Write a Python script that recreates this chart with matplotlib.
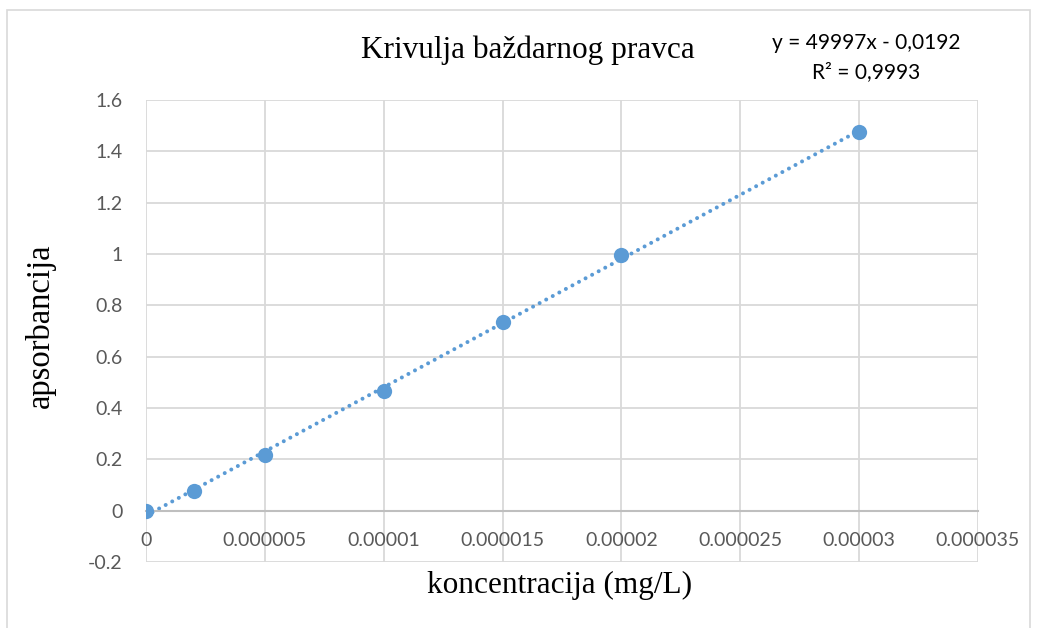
import numpy as np
import matplotlib
matplotlib.use("Agg")
import matplotlib.pyplot as plt
from matplotlib.patches import Rectangle

# Data
concentration = [0, 0.000002, 0.000005, 0.00001, 0.000015, 0.00002, 0.00003]
absorbance = [0.0, 0.075, 0.218, 0.467, 0.737, 0.997, 1.475]
slope = 49997
intercept = -0.0192
r_squared = "0,9993"
x_ticks = [0, 0.000005, 0.00001, 0.000015, 0.00002, 0.000025, 0.00003, 0.000035]
x_tick_labels = ["0", "0.000005", "0.00001", "0.000015", "0.00002", "0.000025", "0.00003", "0.000035"]
y_ticks = [-0.2, 0, 0.2, 0.4, 0.6, 0.8, 1, 1.2, 1.4, 1.6]
y_tick_labels = ["-0.2", "0", "0.2", "0.4", "0.6", "0.8", "1", "1.2", "1.4", "1.6"]
title = "Krivulja baždarnog pravca"
x_label = "koncentracija (mg/L)"
y_label = "apsorbancija"

W, H = 1037, 628
fig = plt.figure(figsize=(W / 100, H / 100), dpi=100)
fig.patch.set_facecolor("white")

# chart border
fig.patches.append(Rectangle((7 / W, -0.01), (1030 - 7) / W, (628 - 10) / H + 0.01,
                             transform=fig.transFigure, fill=False,
                             edgecolor="#D9D9D9", linewidth=1.2))

ax = fig.add_axes([146 / W, 1 - 562 / H, (978 - 146) / W, (562 - 100) / H])
ax.set_xlim(0, 0.000035)
ax.set_ylim(-0.2, 1.6)

blue = "#5B9BD5"
tick_font = "Lato"
serif = "Liberation Serif"

ax.grid(True, color="#D9D9D9", linewidth=1.3)
ax.set_axisbelow(True)
for s in ["top", "right", "left"]:
    ax.spines[s].set_visible(False)
ax.spines["bottom"].set_position(("data", 0))
ax.spines["bottom"].set_color("#BFBFBF")
ax.spines["bottom"].set_linewidth(1.5)

ax.set_xticks(x_ticks)
ax.set_xticklabels(x_tick_labels, fontfamily=tick_font, fontsize=14, color="#595959")
ax.set_yticks(y_ticks)
ax.set_yticklabels(y_tick_labels, fontfamily=tick_font, fontsize=14, color="#595959")
ax.tick_params(axis="both", length=0)
ax.tick_params(axis="x", pad=15)
ax.tick_params(axis="y", pad=17)

# trendline
xs = np.array([concentration[0], concentration[-1]])
ax.plot(xs, slope * xs + intercept, linestyle=(0, (0.001, 1.85)), color=blue,
        linewidth=2.9, dash_capstyle="round", solid_capstyle="round", zorder=2)
ax.plot(concentration, absorbance, "o", color=blue, markersize=11, zorder=3,
        markeredgewidth=0)

fig.text(528 / W, 1 - 50 / H, title, fontfamily=serif, fontsize=22.5, ha="center", va="center",
         color="black")
fig.text(866 / W, 1 - 43 / H, f"y = {slope}x - 0,0192", fontfamily=tick_font, fontsize=15,
         ha="center", va="center", color="black")
fig.text(866 / W, 1 - 72 / H, f"R² = {r_squared}", fontfamily=tick_font, fontsize=15,
         ha="center", va="center", color="black")
fig.text(560 / W, 1 - 585 / H, x_label, fontfamily=serif, fontsize=22.5, ha="center",
         va="center", color="black")
fig.text(40 / W, 1 - 326 / H, y_label, fontfamily=serif, fontsize=23.5, ha="center",
         va="center", rotation=90, color="black")

fig.savefig("out.png", dpi=100, facecolor="white")
